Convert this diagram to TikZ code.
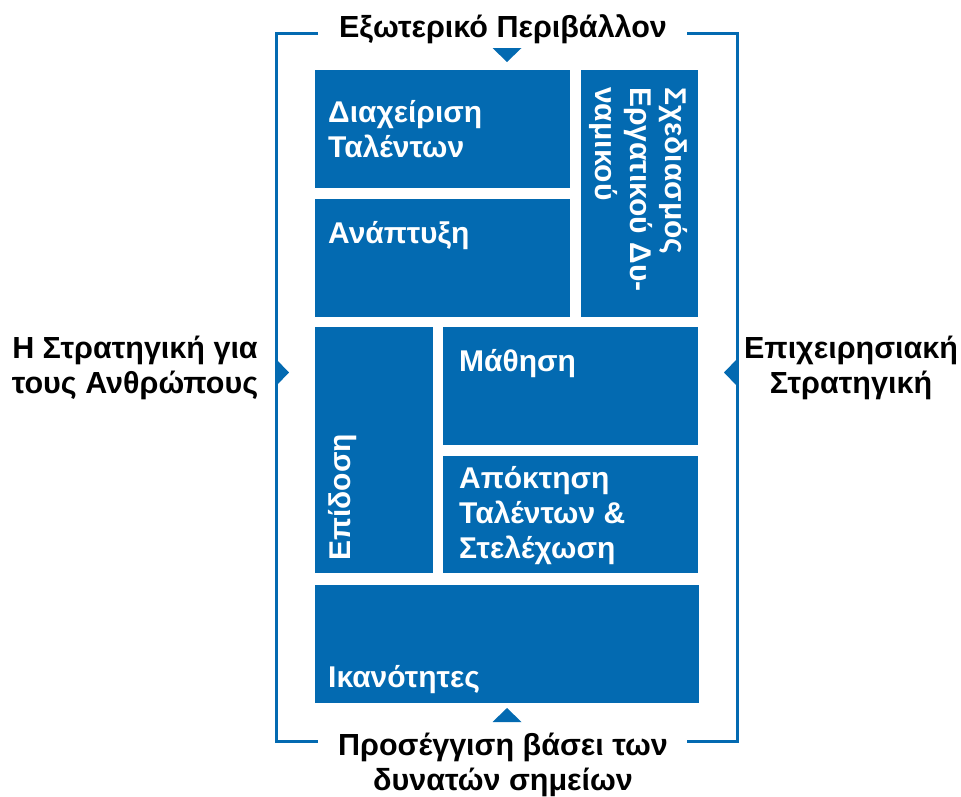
\documentclass[tikz,border=0pt]{standalone}
\usepackage{fontspec}
\setmainfont{Liberation Sans}
\definecolor{hrblue}{HTML}{036AB1}

\begin{document}
\begin{tikzpicture}[x=1pt, y=-1pt,
		block/.style={fill=hrblue, draw=none, inner sep=0pt, anchor=north west},
		blocktext/.style={text=white, font=\bfseries\fontsize{30}{35}\selectfont, inner sep=0pt, align=left},
		outertext/.style={font=\bfseries\fontsize{30.5}{35}\selectfont, inner sep=0pt, align=center},
		frame/.style={draw=hrblue, line width=3pt},
		pointer/.style={fill=hrblue}]
		\useasboundingbox (0,0) rectangle (961,796);
		% frame
		\coordinate (ftl) at (276,33);
		\coordinate (ftr) at (737,33);
		\coordinate (fbl) at (276,741);
		\coordinate (fbr) at (737,741);
		\coordinate (tgl) at (318,33);
		\coordinate (tgr) at (687,33);
		\coordinate (bgl) at (318,741);
		\coordinate (bgr) at (687,741);
		\draw[frame] (tgl) -- (ftl) -- (fbl) -- (bgl);
		\draw[frame] (tgr) -- (ftr) -- (fbr) -- (bgr);
		% pointers
		\fill[pointer] (492.5,48) -- (521.5,48) -- (507,62) -- cycle;
		\fill[pointer] (492.5,722) -- (521.5,722) -- (507,708) -- cycle;
		\fill[pointer] (276,359) -- (276,386) -- (289,372.5) -- cycle;
		\fill[pointer] (737,359) -- (737,386) -- (724,372.5) -- cycle;
		% blocks
		\node[block, minimum width=255pt, minimum height=118pt] (talent) at (315,70) {};
		\node[block, minimum width=255pt, minimum height=118pt] (develop) at (315,199) {};
		\node[block, minimum width=117pt, minimum height=247pt] (planning) at (581,70) {};
		\node[block, minimum width=118pt, minimum height=246pt] (perform) at (315,327) {};
		\node[block, minimum width=255pt, minimum height=118pt] (learn) at (443,327) {};
		\node[block, minimum width=255pt, minimum height=117pt] (acquire) at (443,456) {};
		\node[block, minimum width=384pt, minimum height=118pt] (capab) at (315,585) {};
		% block texts
		\node[blocktext, anchor=base west] (talenttxt) at (328,157) {Διαχείριση\\Ταλέντων};
		\node[blocktext, anchor=base west] (developtxt) at (328,243) {Ανάπτυξη};
		\node[blocktext, anchor=north west, rotate=-90] (planningtxt) at (688,87) {Σχεδιασμός\\Εργατικού Δυ-\\ναμικού};
		\node[blocktext, anchor=north west, rotate=90] (performtxt) at (328,561) {Επίδοση};
		\node[blocktext, anchor=base west] (learntxt) at (459,371) {Μάθηση};
		\node[blocktext, anchor=base west] (acquiretxt) at (459,558) {Απόκτηση\\Ταλέντων \&\\Στελέχωση};
		\node[blocktext, anchor=base west] (capabtxt) at (328,687) {Ικανότητες};
		% outer labels
		\node[outertext, anchor=base] (envir) at (503,37) {Εξωτερικό Περιβάλλον};
		\node[outertext, anchor=base] (strength) at (503,790) {Προσέγγιση βάσει των\\δυνατών σημείων};
		\node[outertext, anchor=base] (people) at (135,393) {Η Στρατηγική για\\τους Ανθρώπους};
		\node[outertext, anchor=base] (business) at (851,393) {Επιχειρησιακή\\Στρατηγική};
	\end{tikzpicture}
\end{document}
